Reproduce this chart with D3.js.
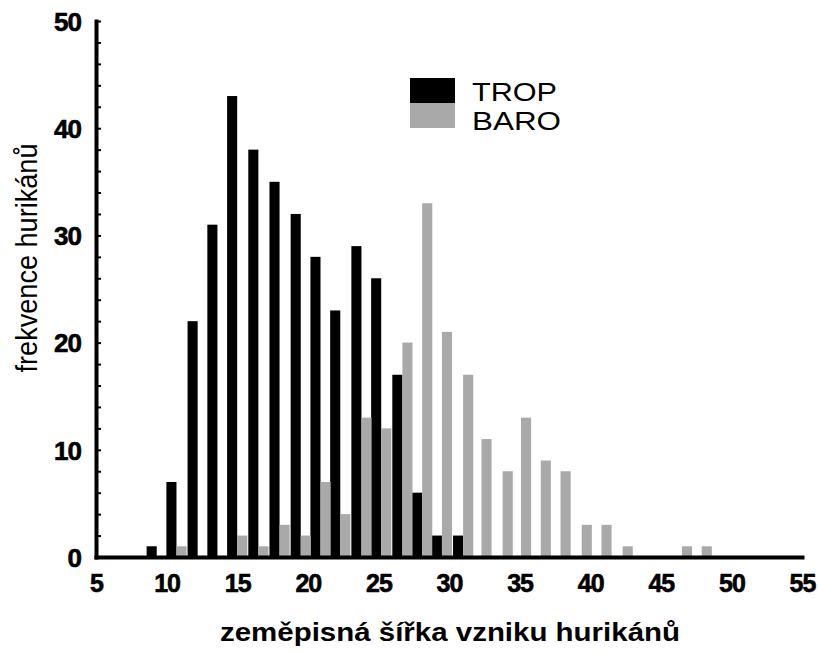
<!DOCTYPE html>
<html>
<head>
<meta charset="utf-8">
<script src="https://cdn.jsdelivr.net/npm/d3@7/dist/d3.min.js"></script>
<style>
  html, body { margin: 0; padding: 0; background: #fff; }
  svg { display: block; }
</style>
</head>
<body>
<svg id="chart" width="818" height="652"></svg>
<script>
// Bin centres (latitude, degrees) of the histogram classes
const latitudes = [9.3, 10.7, 12.2, 13.6, 15.0, 16.5, 18.0, 19.5, 20.9, 22.3, 23.8, 25.2, 26.7, 28.1,
                   29.5, 31.0, 32.3, 33.8, 35.1, 36.5, 37.9, 39.4, 40.8, 42.3, 43.7, 45.1, 46.5, 47.9];
// Hurricane counts per bin, tropical origin
const tropCounts = [1, 7, 22, 31, 43, 38, 35, 32, 28, 23, 29, 26, 17, 6,
                    2, 2, 0, 0, 0, 0, 0, 0, 0, 0, 0, 0, 0, 0];
// Hurricane counts per bin, baroclinic origin
const baroCounts = [0, 1, 0, 0, 2, 1, 3, 2, 7, 4, 13, 12, 20, 33,
                    21, 17, 11, 8, 13, 9, 8, 3, 3, 1, 0, 0, 1, 1];
const seriesNames = ["TROP", "BARO"];
const seriesColors = ["#000000", "#a9a9a9"];
const binWidth = 1.43;                       // degrees per class
const xTicks = [5, 10, 15, 20, 25, 30, 35, 40, 45, 50, 55];
const yTicks = d3.range(0, 51, 2);
const xTitle = "zeměpisná šířka vzniku hurikánů";
const yTitle = "frekvence hurikánů";

const svg = d3.select("#chart");
const x = d3.scaleLinear().domain([5, 55]).range([96, 802]);
const y = d3.scaleLinear().domain([0, 50]).range([557, 21]);

const numFont = "'Liberation Sans', Arial, sans-serif";

// Bars: TROP on the left half of each class, BARO on the right half
const series = [tropCounts, baroCounts];
series.forEach((vals, si) => {
  const rows = latitudes.map((lat, i) => ({ lat, v: vals[i] })).filter(d => d.v > 0);
  svg.append("g")
    .selectAll("rect")
    .data(rows)
    .join("rect")
      .attr("x", d => si === 0 ? x(d.lat - binWidth / 2) : x(d.lat))
      .attr("width", d => x(d.lat) - x(d.lat - binWidth / 2))
      .attr("y", d => y(d.v))
      .attr("height", d => y(0) - y(d.v))
      .attr("fill", seriesColors[si]);
});

// Y axis with short inward ticks every 2
const yAxis = svg.append("g")
  .attr("transform", `translate(${x(5)},0)`)
  .call(d3.axisLeft(y)
    .tickValues(yTicks)
    .tickSizeInner(-5)
    .tickSizeOuter(0)
    .tickPadding(15)
    .tickFormat(d => d % 10 === 0 ? d : ""));
yAxis.select(".domain")
  .style("stroke", "#000").style("stroke-width", "4px").style("stroke-linecap", "square");
yAxis.selectAll(".tick line").style("stroke", "#000").style("stroke-width", "2px");
yAxis.selectAll(".tick text")
  .attr("font-family", numFont).attr("font-weight", "bold").attr("font-size", 26)
  .attr("letter-spacing", "-1px").attr("fill", "#000")
  .attr("stroke", "#000").attr("stroke-width", 0.6)
  .attr("dy", "0.36em");

// X axis
const xAxis = svg.append("g")
  .attr("transform", `translate(0,${y(0)})`)
  .call(d3.axisBottom(x)
    .tickValues(xTicks)
    .tickSize(0)
    .tickPadding(17)
    .tickFormat(d3.format("d")));
xAxis.select(".domain")
  .style("stroke", "#000").style("stroke-width", "4px").style("stroke-linecap", "square");
xAxis.selectAll(".tick text")
  .attr("font-family", numFont).attr("font-weight", "bold").attr("font-size", 25)
  .attr("letter-spacing", "-1px").attr("fill", "#000")
  .attr("stroke", "#000").attr("stroke-width", 0.6);

// Axis titles
svg.append("text")
  .attr("x", 450).attr("y", 641)
  .attr("text-anchor", "middle")
  .attr("font-family", numFont).attr("font-weight", "bold").attr("font-size", 25)
  .attr("textLength", 460).attr("lengthAdjust", "spacingAndGlyphs")
  .text(xTitle);

svg.append("text")
  .attr("transform", "translate(37,258) rotate(-90)")
  .attr("text-anchor", "middle")
  .attr("font-family", numFont).attr("font-size", 30)
  .attr("textLength", 229).attr("lengthAdjust", "spacingAndGlyphs")
  .text(yTitle);

// Legend
const legend = svg.append("g").attr("transform", "translate(410,78)");
seriesNames.forEach((name, i) => {
  legend.append("rect")
    .attr("x", 0).attr("y", i * 25)
    .attr("width", 45).attr("height", 25)
    .attr("fill", seriesColors[i]);
  legend.append("text")
    .attr("x", 62).attr("y", 23 + i * 29)
    .attr("font-family", numFont).attr("font-size", 26)
    .attr("textLength", i === 0 ? 85 : 89).attr("lengthAdjust", "spacingAndGlyphs")
    .attr("fill", "#000")
    .text(name);
});
</script>
</body>
</html>
